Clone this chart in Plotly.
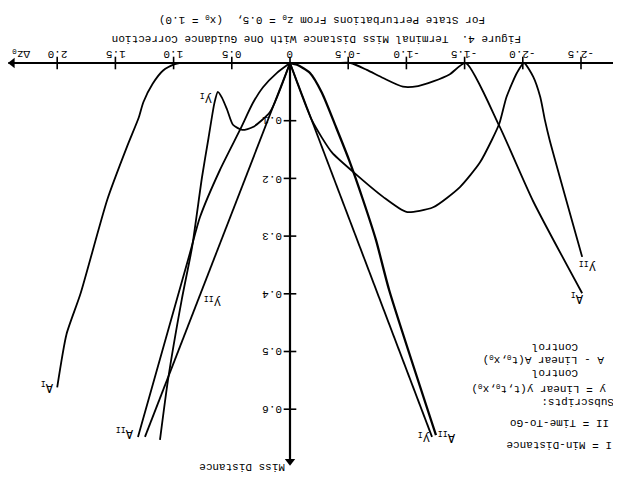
import plotly.graph_objects as go

W, H = 621, 477
OFF = 8  # page body margin offset of the figure inside the browser window

# pixel calibration of the (upside-down) scanned figure
X0_PX, X_PER_UNIT = 290.0, 116.4   # dz = 0 at px 290, 116.4 px per unit (increasing dz to the left)
Y0_PX, Y_PER_UNIT = 63.0, 577.0    # md = 0 at px 63, 577 px per unit (increasing md downward)
X_RANGE = [(X0_PX - OFF) / X_PER_UNIT, (X0_PX - (W + OFF)) / X_PER_UNIT]
Y_RANGE = [((H + OFF) - Y0_PX) / Y_PER_UNIT, (OFF - Y0_PX) / Y_PER_UNIT]

# ---------------- data ----------------
x_ticks = [2.0, 1.5, 1.0, 0.5, 0.0, -0.5, -1.0, -1.5, -2.0, -2.5]
x_tick_labels = ["2.0", "1.5", "1.0", "0.5", "0", "-0.5", "-1.0", "-1.5", "-2.0", "-2.5"]
y_ticks = [0.1, 0.2, 0.3, 0.4, 0.5, 0.6]
y_tick_labels = ["0.1", "0.2", "0.3", "0.4", "0.5", "0.6"]

# A_I (min-distance, linear A control)
aI_left_dz = [0.0, 0.80, 0.95, 0.99, 1.09, 1.18, 1.26, 1.30, 1.40, 1.57, 1.80, 1.92, 2.00]
aI_left_md = [0.0, 0.0, 0.0, 0.002, 0.013, 0.036, 0.068, 0.095, 0.145, 0.237, 0.40, 0.47, 0.562]
aI_right_dz = [0.0, -0.40, -0.52, -0.66, -0.80, -0.97, -1.10, -1.23, -1.37, -1.51, -1.80, -2.09, -2.51]
aI_right_md = [0.0, 0.0, 0.0, 0.012, 0.026, 0.041, 0.040, 0.032, 0.020, 0.0, 0.11, 0.24, 0.399]

# A_II (time-to-go, linear A control)
aII_left_dz = [0.0, 0.112, 0.232, 0.318, 0.43, 0.601, 0.773, 0.859, 1.306]
aII_left_md = [0.0, 0.017, 0.042, 0.069, 0.116, 0.185, 0.267, 0.329, 0.648]
aII_right_dz = [0.0, -0.06, -0.17, -0.275, -0.395, -0.507, -0.627, -0.739, -0.851, -1.254]
aII_right_md = [0.0, 0.003, 0.017, 0.052, 0.111, 0.168, 0.237, 0.307, 0.393, 0.645]

# y_I (min-distance, linear y control)
yI_left_dz = [0.0, 0.172, 0.318, 0.41, 0.49, 0.54, 0.585, 0.62, 0.65, 0.70, 0.756, 0.842, 0.93, 1.048, 1.117]
yI_left_md = [0.0, 0.085, 0.111, 0.116, 0.107, 0.081, 0.060, 0.050, 0.070, 0.13, 0.198, 0.32, 0.41, 0.549, 0.653]
yI_right_dz = [0.0, -1.22]
yI_right_md = [0.0, 0.648]

# y_II (time-to-go, linear y control)
yII_left_dz = [0.0, 1.246]
yII_left_md = [0.0, 0.648]
yII_right_dz = [0.0, -0.19, -0.36, -0.55, -0.80, -1.00, -1.23, -1.46, -1.63, -1.735,
                -1.80, -1.86, -1.95, -2.01, -2.09, -2.15, -2.19, -2.23, -2.51]
yII_right_md = [0.0, 0.10, 0.155, 0.19, 0.232, 0.258, 0.25, 0.215, 0.173, 0.133,
                0.104, 0.059, 0.017, 0.0, 0.024, 0.059, 0.099, 0.133, 0.336]

# axis extents
x_axis_dz = [2.42, -2.85]
y_axis_md = [0.0, 0.690]

FONT = "Liberation Mono"

fig = go.Figure()

def curve(xs, ys, shape="spline", width=1.8):
    fig.add_trace(go.Scatter(
        x=xs, y=ys, mode="lines",
        line=dict(color="black", width=width, shape=shape,
                  smoothing=0.6 if shape == "spline" else None),
        hoverinfo="skip", showlegend=False, cliponaxis=False))

# axes
curve(x_axis_dz, [0, 0], "linear", 2.2)
curve([0, 0], y_axis_md, "linear", 2.2)
fig.add_trace(go.Scatter(x=x_ticks, y=[0] * len(x_ticks), mode="markers",
                         marker=dict(symbol="line-ns", size=9, line=dict(width=1.6, color="black")),
                         hoverinfo="skip", showlegend=False, cliponaxis=False))
fig.add_trace(go.Scatter(x=[0] * len(y_ticks), y=y_ticks, mode="markers",
                         marker=dict(symbol="line-ew", size=9, line=dict(width=1.6, color="black")),
                         hoverinfo="skip", showlegend=False, cliponaxis=False))
fig.add_trace(go.Scatter(x=[2.385], y=[0], mode="markers",
                         marker=dict(symbol="triangle-left", size=9, color="black"),
                         hoverinfo="skip", showlegend=False, cliponaxis=False))
fig.add_trace(go.Scatter(x=[0], y=[y_axis_md[1]], mode="markers",
                         marker=dict(symbol="triangle-down", size=9, color="black"),
                         hoverinfo="skip", showlegend=False, cliponaxis=False))

# curves
curve(aI_left_dz, aI_left_md)
curve(aI_right_dz, aI_right_md, "spline", 1.8)
curve(aII_left_dz, aII_left_md)
curve(aII_right_dz, aII_right_md, "spline", 2.3)
curve(yI_left_dz, yI_left_md)
curve(yI_right_dz, yI_right_md, "linear")
curve(yII_left_dz, yII_left_md, "linear")
curve(yII_right_dz, yII_right_md)

ann = []

def text_px(txt, x, y, size=11):
    ann.append(dict(text=txt, x=(x - OFF) / W, y=1 - (y - OFF) / H, xref="paper", yref="paper",
                    showarrow=False, textangle=180, xanchor="center", yanchor="middle",
                    font=dict(family=FONT, size=size, color="black")))

# tick labels (data positions, pixel offsets)
for v, lab in zip(x_ticks, x_tick_labels):
    ann.append(dict(text=lab, x=v, y=0, xref="x", yref="y", showarrow=False,
                    textangle=180, yshift=9, xanchor="center", yanchor="middle",
                    font=dict(family=FONT, size=11, color="black")))
for v, lab in zip(y_ticks, y_tick_labels):
    ann.append(dict(text=lab, x=0, y=v, xref="x", yref="y", showarrow=False,
                    textangle=180, xshift=-18, xanchor="center", yanchor="middle",
                    font=dict(family=FONT, size=11, color="black")))

# titles and axis names
text_px("For State Perturbations From z<sub>0</sub> = 0.5,&nbsp;&nbsp;(x<sub>0</sub> = 1.0)", 322, 19, 11)
text_px("Figure 4.&nbsp;&nbsp;Terminal Miss Distance With One Guidance Correction", 317, 39, 11)
text_px("Δz<sub>0</sub>", 21, 53, 11)
text_px("Miss Distance", 242, 467, 11)

# legend block
text_px("I = Min-Distance", 559, 445, 11)
text_px("II = Time-To-Go", 560, 423, 11)
text_px("Subscripts:", 578, 402, 11)
text_px("y = Linear y(t,t<sub>0</sub>,x<sub>0</sub>)", 539, 389, 11)
text_px("Control", 555, 373, 11)
text_px("A - Linear A(t<sub>0</sub>,x<sub>0</sub>)", 544, 360, 11)
text_px("Control", 555, 347, 11)

# curve labels
text_px("A<sub>I</sub>", 47, 386, 12)
text_px("A<sub>II</sub>", 125, 432, 12)
text_px("y<sub>II</sub>", 213, 301, 12)
text_px("y<sub>I</sub>", 206, 98, 12)
text_px("A<sub>I</sub>", 577, 297, 12)
text_px("y<sub>II</sub>", 588, 266, 12)
text_px("y<sub>I</sub>", 424, 437, 12)
text_px("A<sub>II</sub>", 447, 436, 12)

fig.update_layout(
    width=W, height=H, margin=dict(l=0, r=0, t=0, b=0),
    paper_bgcolor="white", plot_bgcolor="white",
    xaxis=dict(range=X_RANGE, visible=False, fixedrange=True),
    yaxis=dict(range=Y_RANGE, visible=False, fixedrange=True),
    annotations=ann, showlegend=False,
)
fig.write_html("out.html")
